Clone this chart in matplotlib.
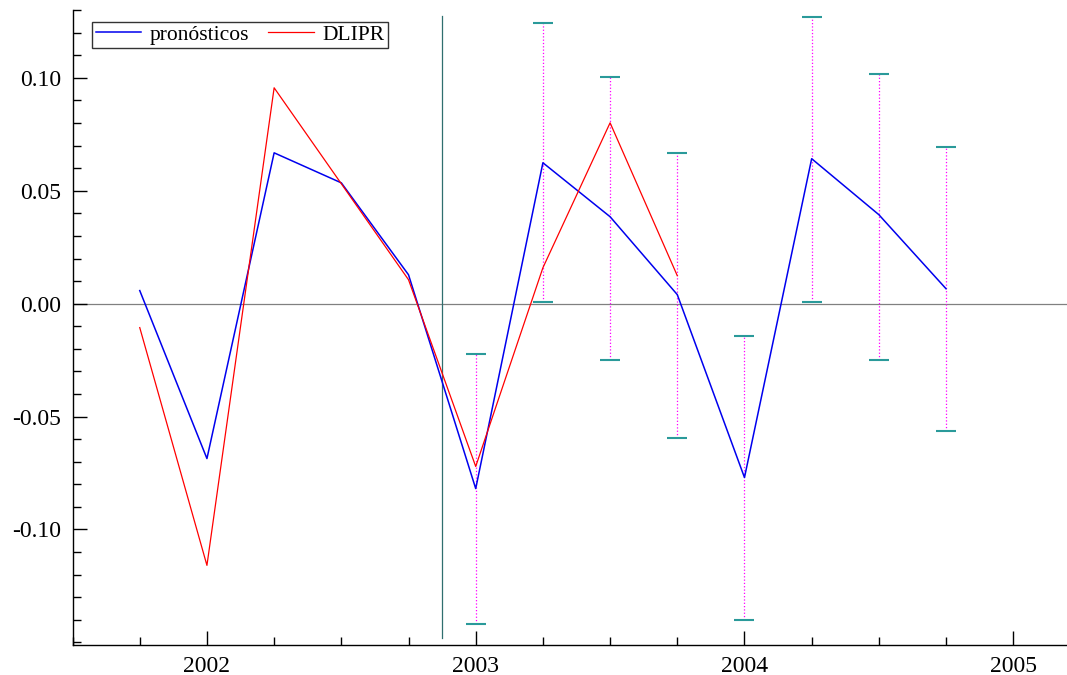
import numpy as np
import matplotlib.pyplot as plt
from matplotlib.ticker import MultipleLocator, FixedLocator

# periodos trimestrales
t = [2001.75, 2002.0, 2002.25, 2002.5, 2002.75, 2003.0, 2003.25,
     2003.5, 2003.75, 2004.0, 2004.25, 2004.5, 2004.75]
pronosticos = [0.0058, -0.0686, 0.0668, 0.0535, 0.0128, -0.0819, 0.0624,
               0.0385, 0.0040, -0.0770, 0.0642, 0.0394, 0.0066]

t_obs = t[:9]
dlipr = [-0.0106, -0.1159, 0.0956, 0.0531, 0.0106, -0.0721, 0.0159,
         0.0801, 0.0124]

# intervalos de confianza
t_ic = t[5:]
ic_sup = [-0.0221, 0.1243, 0.1004, 0.0668, -0.0142, 0.1270, 0.1018, 0.0695]
ic_inf = [-0.1420, 0.0009, -0.0248, -0.0593, -0.1403, 0.0009, -0.0248, -0.0566]

inicio_pron = 2002.875

plt.rcParams['font.family'] = ['Liberation Serif', 'DejaVu Serif']
plt.rcParams['font.size'] = 17

fig, ax = plt.subplots(figsize=(10.67, 6.75), dpi=100)
fig.subplots_adjust(left=0.068, right=1.0, top=0.985, bottom=0.045)

ax.axhline(0, color='#808080', lw=0.9, zorder=1)

ax.axvline(inicio_pron, ymin=0.01, ymax=0.99, color='#2f6f6f', lw=0.9)

ax.vlines(t_ic, ic_inf, ic_sup, colors='#ff00ff', linestyles=':', lw=0.9, zorder=2)
ax.plot(t_ic, ic_sup, ls='none', marker='_', ms=14, mew=1.5, color='#2a9a9a', zorder=3)
ax.plot(t_ic, ic_inf, ls='none', marker='_', ms=14, mew=1.5, color='#2a9a9a', zorder=3)

ax.plot(t, pronosticos, color='#0000ee', lw=1.1, label='pronósticos', zorder=4)
ax.plot(t_obs, dlipr, color='#ff0000', lw=0.9, label='DLIPR', zorder=5)

ax.set_xlim(2001.5, 2005.2)
ax.set_ylim(-0.151, 0.130)

ax.xaxis.set_major_locator(FixedLocator([2002, 2003, 2004, 2005]))
ax.xaxis.set_major_formatter(plt.FuncFormatter(lambda v, p: f'{v:.0f}'))
ax.xaxis.set_minor_locator(MultipleLocator(0.25))
ax.yaxis.set_major_locator(FixedLocator([-0.10, -0.05, 0.0, 0.05, 0.10]))
ax.yaxis.set_major_formatter(plt.FuncFormatter(lambda v, p: f'{v:.2f}'))
ax.yaxis.set_minor_locator(MultipleLocator(0.01))

ax.tick_params(which='both', direction='in', top=False, right=False)
ax.tick_params(which='major', length=10, width=1)
ax.tick_params(which='minor', length=6, width=1)
ax.tick_params(axis='x', which='major', pad=8)
ax.tick_params(axis='y', which='major', pad=8)

for s in ['top', 'right']:
    ax.spines[s].set_visible(False)
for s in ['left', 'bottom']:
    ax.spines[s].set_linewidth(1.0)

leg = ax.legend(loc='upper left', ncol=2, bbox_to_anchor=(0.02, 0.982),
                frameon=True, fancybox=False, borderaxespad=0,
                handlelength=2.1, columnspacing=0.9, handletextpad=0.4,
                borderpad=0.15, fontsize=15.5)
leg.get_frame().set_edgecolor('black')
leg.get_frame().set_linewidth(1.0)

plt.savefig('out.png', dpi=100)
